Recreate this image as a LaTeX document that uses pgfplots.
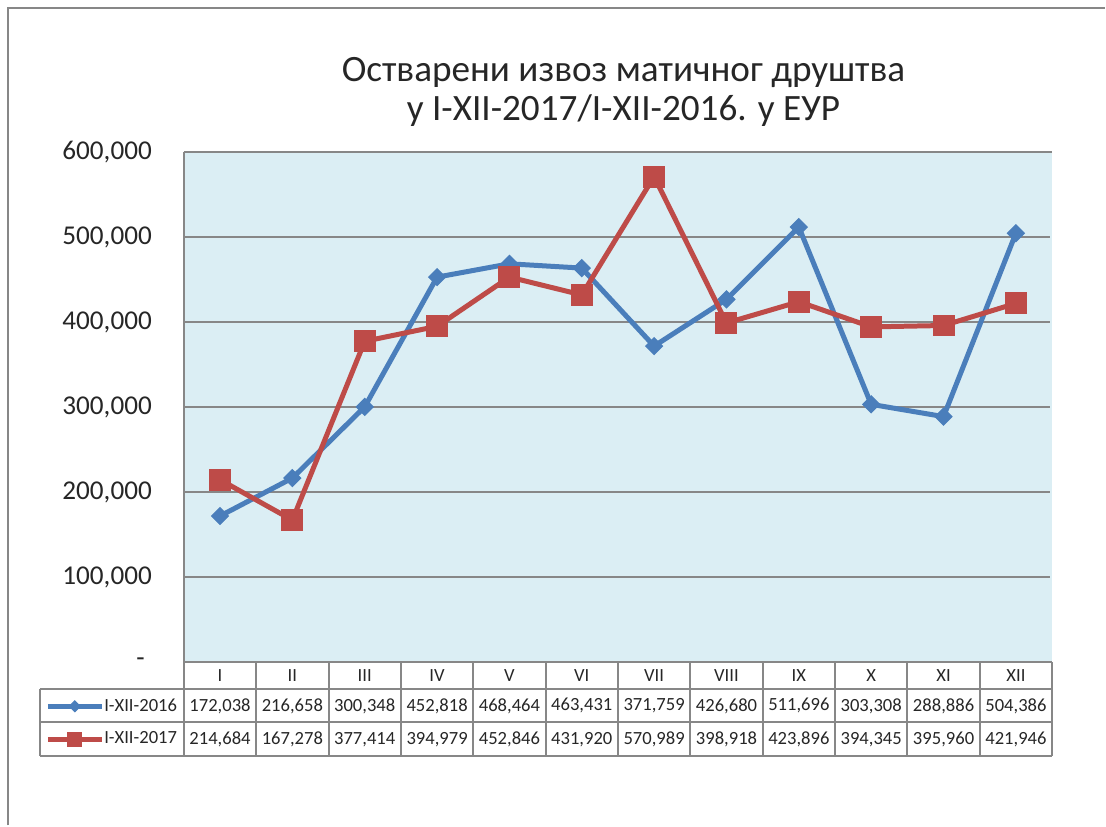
\documentclass[border=0pt]{standalone}
\usepackage{pgfplots}
\pgfplotsset{compat=1.18}
\usepackage{fontspec}
\setmainfont{Carlito}
\definecolor{bgblue}{HTML}{DBEEF4}
\definecolor{sblue}{HTML}{4A7EBB}
\definecolor{sred}{HTML}{BE4B48}
\definecolor{gridgray}{HTML}{878787}
\definecolor{txt}{HTML}{262626}
\pgfplotstableread{
x y
1 172038
2 216658
3 300348
4 452818
5 468464
6 463431
7 371759
8 426680
9 511696
10 303308
11 288886
12 504386
}\dataA
\pgfplotstableread{
x y
1 214684
2 167278
3 377414
4 394979
5 452846
6 431920
7 570989
8 398918
9 423896
10 394345
11 395960
12 421946
}\dataB
\begin{document}
\begin{tikzpicture}
\begin{scope}[x=0.5pt,y=-0.5pt]
\path (0,0) rectangle (1106,826);
\draw[gridgray, line width=1pt] (8,826) -- (8,8) -- (1106,8);
\node[align=center, font=\fontsize{18.6pt}{20pt}\selectfont, text=txt] at (624,92) {Остварени извоз матичног друштва\\у I-XII-2017/I-XII-2016. у ЕУР};
\end{scope}
\begin{axis}[at={(92pt,-331.5pt)}, anchor=south west, scale only axis,
  width=434.5pt, height=255.5pt,
  xmin=0.5, xmax=12.5, ymin=0, ymax=600000,
  axis background/.style={fill=bgblue, draw=none},
  hide x axis,
  axis y line*=left,
  ytick pos=left,
  scaled y ticks=false,
  ytick={0,100000,200000,300000,400000,500000,600000},
  yticklabels={-\rule{3.5pt}{0pt},{100,000},{200,000},{300,000},{400,000},{500,000},{600,000}},
  ymajorgrids, grid style={gridgray, line width=1pt},
  axis line style={draw=none},
  major tick length=0pt,
  tick style={draw=none},
  yticklabel style={font=\fontsize{13.6pt}{15pt}\selectfont, text=txt, anchor=east, xshift=-12.5pt},
  legend style={at={(-0.16,-0.0528)}, anchor=north west, draw=none, fill=none,
    inner sep=0pt, row sep=0pt, column sep=0pt,
    font=\fontsize{9.3pt}{11pt}\selectfont,
    nodes={minimum height=16.5pt, inner sep=0pt, text=txt}},
  legend cell align=left,
  legend image code/.code={\draw[#1, every mark/.append style={scale=0.65}, mark repeat=2, mark phase=2] plot coordinates {(0pt,0pt) (13.5pt,0pt) (27pt,0pt)};},
]
\addplot[sblue, line width=2.5pt, mark=square*, mark size=3pt, mark options={rotate=45, solid, line width=0.5pt}] table[x=x,y=y] {\dataA};
\addlegendentry{I-XII-2016}
\addplot[sred, line width=2.5pt, mark=square*, mark size=5.25pt, mark options={solid, line width=0.5pt}] table[x=x,y=y] {\dataB};
\addlegendentry{I-XII-2017}
\end{axis}
\begin{scope}[x=0.5pt,y=-0.5pt]
\fill[white] (1053,150) rectangle (1060,662);
\fill[bgblue] (1051,153.2) rectangle (1053,661.8);
\draw[gridgray, line width=1pt] (184,152) -- (184,663);
\foreach \k in {0,...,12} \draw[gridgray, line width=1pt] ({184+\k*72.42},663) -- ({184+\k*72.42},757);
\draw[gridgray, line width=1pt] (184,663) -- (1053,663);
\draw[gridgray, line width=1pt] (40,690) -- (1053,690);
\draw[gridgray, line width=1pt] (40,723) -- (1053,723);
\draw[gridgray, line width=1pt] (40,757) -- (1053,757);
\draw[gridgray, line width=1pt] (40,690) -- (40,757);
\foreach \m [count=\i] in {I,II,III,IV,V,VI,VII,VIII,IX,X,XI,XII}
  \node[font=\fontsize{9.3pt}{11pt}\selectfont, text=txt] at ({184+(\i-0.5)*72.42},676.5) {\m};
\foreach \v [count=\i] in {{172,038},{216,658},{300,348},{452,818},{468,464},{463,431},{371,759},{426,680},{511,696},{303,308},{288,886},{504,386}}
  \node[font=\fontsize{9.3pt}{11pt}\selectfont, text=txt] at ({184+(\i-0.5)*72.42},706.5) {\v};
\foreach \v [count=\i] in {{214,684},{167,278},{377,414},{394,979},{452,846},{431,920},{570,989},{398,918},{423,896},{394,345},{395,960},{421,946}}
  \node[font=\fontsize{9.3pt}{11pt}\selectfont, text=txt] at ({184+(\i-0.5)*72.42},740) {\v};
\end{scope}
\end{tikzpicture}
\end{document}
